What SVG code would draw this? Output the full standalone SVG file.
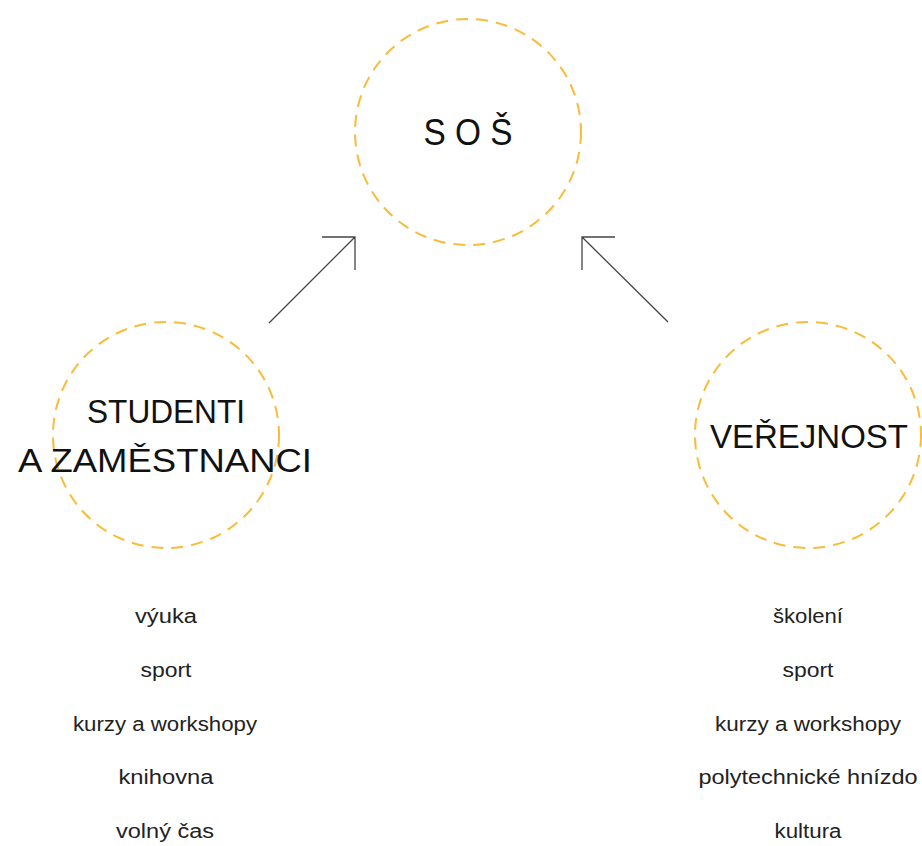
<svg xmlns="http://www.w3.org/2000/svg" width="922" height="846" viewBox="0 0 922 846">
<style>
.ring{fill:none;stroke:#F7BC3A;stroke-width:2;stroke-dasharray:12 8}
.big{font-family:"Liberation Sans",Arial,sans-serif;fill:#111;text-anchor:middle}
.item{font-family:"Liberation Sans",Arial,sans-serif;font-size:20px;fill:#222;text-anchor:middle}
.conn{fill:none;stroke:#444;stroke-width:1.3}
</style>
<rect width="922" height="846" fill="#fff"/>
<g id="sos">
<circle class="ring" cx="468" cy="132" r="113"/>
<text class="big" x="468" y="145" font-size="36" textLength="89" lengthAdjust="spacingAndGlyphs">S O Š</text>
</g>
<g id="studenti">
<circle class="ring" cx="166" cy="435" r="113"/>
<text class="big" x="166" y="423" font-size="34" textLength="158" lengthAdjust="spacingAndGlyphs">STUDENTI</text>
<text class="big" x="165" y="472" font-size="34" textLength="294" lengthAdjust="spacingAndGlyphs">A ZAMĚSTNANCI</text>
</g>
<g id="verejnost">
<circle class="ring" cx="808" cy="435" r="113"/>
<text class="big" x="809" y="448" font-size="34" textLength="198" lengthAdjust="spacingAndGlyphs">VEŘEJNOST</text>
</g>
<g id="list-studenti">
<text class="item" x="166" y="623" textLength="62" lengthAdjust="spacingAndGlyphs">výuka</text>
<text class="item" x="166" y="677" textLength="51" lengthAdjust="spacingAndGlyphs">sport</text>
<text class="item" x="165" y="731" textLength="184" lengthAdjust="spacingAndGlyphs">kurzy a workshopy</text>
<text class="item" x="166" y="784" textLength="95" lengthAdjust="spacingAndGlyphs">knihovna</text>
<text class="item" x="165" y="838" textLength="98" lengthAdjust="spacingAndGlyphs">volný čas</text>
</g>
<g id="list-verejnost">
<text class="item" x="808" y="623" textLength="70" lengthAdjust="spacingAndGlyphs">školení</text>
<text class="item" x="808" y="677" textLength="51" lengthAdjust="spacingAndGlyphs">sport</text>
<text class="item" x="808" y="731" textLength="186" lengthAdjust="spacingAndGlyphs">kurzy a workshopy</text>
<text class="item" x="808" y="784" textLength="219" lengthAdjust="spacingAndGlyphs">polytechnické hnízdo</text>
<text class="item" x="808" y="838" textLength="67" lengthAdjust="spacingAndGlyphs">kultura</text>
</g>
<g id="connectors">
<path class="conn" d="M269 323 L355 237 M322 237 H355 V270"/>
<path class="conn" d="M668 322 L582 237 M615 237 H582 V270"/>
</g>
</svg>
